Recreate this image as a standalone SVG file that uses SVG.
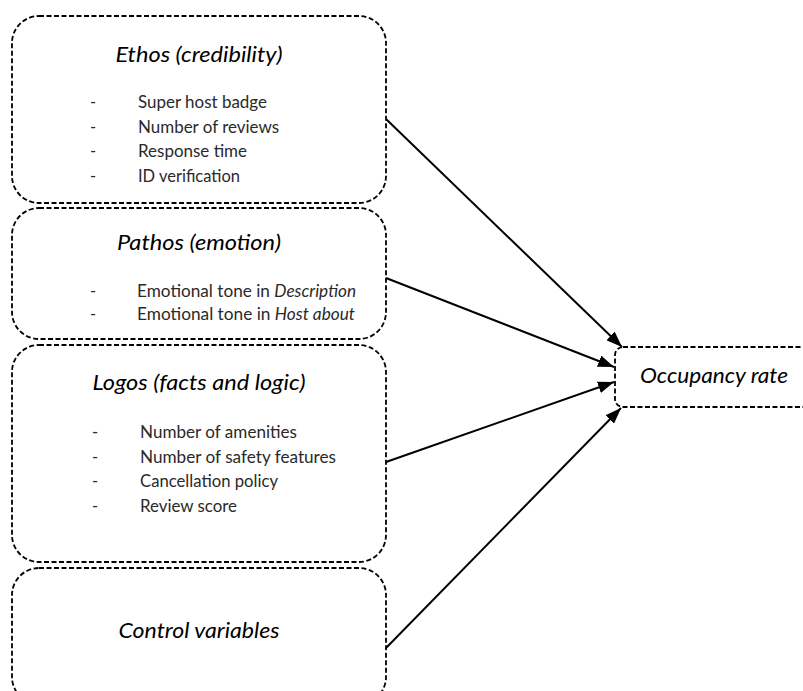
<svg xmlns="http://www.w3.org/2000/svg" width="803" height="691" viewBox="0 0 803 691">
<style>
.box{fill:none;stroke:#000;stroke-width:1.8;stroke-dasharray:5 2.5}
.conn line{stroke:#000;stroke-width:2}
.h{font-family:Lato,"Open Sans",sans-serif;font-style:italic;font-size:22px;fill:#000;text-anchor:middle}
.it{font-family:Lato,"Open Sans",sans-serif;font-size:16.5px;fill:#2a2a2a}
.i{font-style:italic}
</style>
<defs>
<marker id="arr" viewBox="0 0 16 12" refX="16" refY="6" markerWidth="16" markerHeight="12" markerUnits="userSpaceOnUse" orient="auto">
<path d="M0,0 L16,6 L0,12 Z" fill="#000"/>
</marker>
</defs>
<rect width="803" height="691" fill="#fff"/>
<g id="ethos">
<rect class="box" x="12" y="16" width="374" height="187" rx="27" ry="27"/>
<text class="h" x="199" y="62" textLength="167" lengthAdjust="spacingAndGlyphs">Ethos (credibility)</text>
<text class="it" x="90" y="108">-</text>
<text class="it" x="138" y="108" textLength="129" lengthAdjust="spacingAndGlyphs">Super host badge</text>
<text class="it" x="90" y="133">-</text>
<text class="it" x="138" y="133" textLength="141" lengthAdjust="spacingAndGlyphs">Number of reviews</text>
<text class="it" x="90" y="157">-</text>
<text class="it" x="138" y="157" textLength="109" lengthAdjust="spacingAndGlyphs">Response time</text>
<text class="it" x="90" y="182">-</text>
<text class="it" x="138" y="182" textLength="102" lengthAdjust="spacingAndGlyphs">ID verification</text>
</g>
<g id="pathos">
<rect class="box" x="12" y="208" width="374" height="131" rx="27" ry="27"/>
<text class="h" x="199" y="250" textLength="164" lengthAdjust="spacingAndGlyphs">Pathos (emotion)</text>
<text class="it" x="90" y="297">-</text>
<text class="it" x="137" y="297" textLength="219" lengthAdjust="spacingAndGlyphs">Emotional tone in <tspan class="i">Description</tspan></text>
<text class="it" x="90" y="320">-</text>
<text class="it" x="137" y="320" textLength="218" lengthAdjust="spacingAndGlyphs">Emotional tone in <tspan class="i">Host about</tspan></text>
</g>
<g id="logos">
<rect class="box" x="12" y="345" width="374" height="217" rx="27" ry="27"/>
<text class="h" x="199" y="390" textLength="213" lengthAdjust="spacingAndGlyphs">Logos (facts and logic)</text>
<text class="it" x="92" y="438">-</text>
<text class="it" x="140" y="438" textLength="157" lengthAdjust="spacingAndGlyphs">Number of amenities</text>
<text class="it" x="92" y="463">-</text>
<text class="it" x="140" y="463" textLength="196" lengthAdjust="spacingAndGlyphs">Number of safety features</text>
<text class="it" x="92" y="487">-</text>
<text class="it" x="140" y="487" textLength="138" lengthAdjust="spacingAndGlyphs">Cancellation policy</text>
<text class="it" x="92" y="512">-</text>
<text class="it" x="140" y="512" textLength="97" lengthAdjust="spacingAndGlyphs">Review score</text>
</g>
<g id="control">
<rect class="box" x="12" y="568" width="374" height="136" rx="27" ry="27"/>
<text class="h" x="199" y="638" textLength="161" lengthAdjust="spacingAndGlyphs">Control variables</text>
</g>
<g id="occupancy">
<rect class="box" x="615" y="347" width="220" height="60" rx="8" ry="8"/>
<text class="h" x="714" y="383" textLength="148" lengthAdjust="spacingAndGlyphs">Occupancy rate</text>
</g>
<g class="conn" id="connectors">
<line x1="386" y1="119" x2="622" y2="347" marker-end="url(#arr)"/>
<line x1="386" y1="278" x2="614" y2="367" marker-end="url(#arr)"/>
<line x1="386" y1="462" x2="614" y2="382" marker-end="url(#arr)"/>
<line x1="386" y1="648" x2="621" y2="408" marker-end="url(#arr)"/>
</g>
</svg>
